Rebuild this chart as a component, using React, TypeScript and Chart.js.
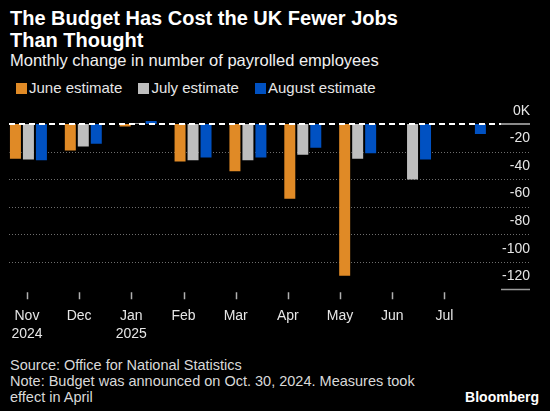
import React, { useEffect, useRef } from "react";
import { Chart, registerables } from "chart.js";

Chart.register(...registerables);

const months = ["Nov", "Dec", "Jan", "Feb", "Mar", "Apr", "May", "Jun", "Jul"];
const years = ["2024", "", "2025", "", "", "", "", "", ""];
const juneEstimate: (number | null)[] = [-26, -20, -2.5, -28, -35, -55, -111, null, null];
const julyEstimate: (number | null)[] = [-26.5, -17, 1, -27, -27, -23, -26, -41, null];
const augustEstimate: (number | null)[] = [-27, -15, 3, -25, -25, -18, -22, -26.5, -8];
const seriesNames = ["June estimate", "July estimate", "August estimate"];
const seriesColors = ["#e08a26", "#bebebe", "#0051c2"];
const yTicks = [0, -20, -40, -60, -80, -100, -120];

const FONT = "'Liberation Sans', Arial, sans-serif";

const gridPlugin = {
  id: "bbgGrid",
  beforeDatasetsDraw(chart: any) {
    const { ctx, chartArea } = chart;
    const y = chart.scales.y;
    ctx.save();
    y.ticks.forEach((t: any) => {
      const py = Math.round(y.getPixelForValue(t.value)) + 0.5;
      if (t.value === 0) return;
      ctx.beginPath();
      if (t.value === y.min) {
        ctx.setLineDash([]);
        ctx.strokeStyle = "#9a9a9a";
        ctx.lineWidth = 1.5;
        ctx.moveTo(chartArea.right + 3, py);
        ctx.lineTo(y.right, py);
      } else {
        ctx.setLineDash([1, 2]);
        ctx.strokeStyle = "#6e6e6e";
        ctx.lineWidth = 1;
        ctx.moveTo(chartArea.left, py);
        ctx.lineTo(y.right, py);
      }
      ctx.stroke();
    });
    ctx.restore();
  },
  afterDatasetsDraw(chart: any) {
    const { ctx, chartArea } = chart;
    const y = chart.scales.y;
    const x2 = chart.scales.x2;
    const py = Math.round(y.getPixelForValue(0));
    ctx.save();
    ctx.beginPath();
    ctx.setLineDash([6, 4]);
    ctx.strokeStyle = "#ffffff";
    ctx.lineWidth = 2;
    ctx.moveTo(chartArea.left, py);
    ctx.lineTo(chartArea.right + 3, py);
    ctx.stroke();
    ctx.beginPath();
    ctx.setLineDash([]);
    ctx.strokeStyle = "#8a8a8a";
    ctx.lineWidth = 2;
    ctx.moveTo(chartArea.right + 3, py);
    ctx.lineTo(y.right, py);
    ctx.stroke();
    // x tick marks
    ctx.beginPath();
    ctx.strokeStyle = "#b0b0b0";
    ctx.lineWidth = 1.5;
    x2.ticks.forEach((t: any) => {
      const px = Math.round(x2.getPixelForValue(t.value)) + 0.5;
      ctx.moveTo(px, chartArea.bottom + 3);
      ctx.lineTo(px, chartArea.bottom + 10);
    });
    ctx.stroke();
    ctx.restore();
  },
};

export default function App() {
  const canvasRef = useRef<HTMLCanvasElement | null>(null);

  useEffect(() => {
    document.body.style.margin = "0";
    document.body.style.background = "#000";
    const canvas = canvasRef.current;
    if (!canvas) return;
    const allSeries = [juneEstimate, julyEstimate, augustEstimate];
    const chart = new Chart(canvas, {
      type: "bar",
      data: {
        datasets: allSeries.map((vals, si) => ({
          label: seriesNames[si],
          data: vals.map((v, i) => ({ x: i, y: v })),
          backgroundColor: seriesColors[si],
          borderColor: "rgba(0,0,0,0.45)",
          borderWidth: 1,
          categoryPercentage: 0.71,
          barPercentage: 1,
          xAxisID: "x",
          yAxisID: "y",
        })) as any,
      },
      options: {
        animation: false,
        responsive: false,
        devicePixelRatio: 1,
        layout: { padding: { left: 9, right: 20, top: 1, bottom: 0 } },
        plugins: {
          legend: { display: false },
          tooltip: { enabled: false },
        },
        scales: {
          x: {
            type: "linear",
            display: false,
            offset: false,
            min: -0.354,
            max: 8.557,
          },
          x2: {
            type: "linear",
            position: "bottom",
            offset: false,
            min: -0.344,
            max: 9.026,
            afterBuildTicks: (scale: any) => {
              scale.ticks = months.map((_, i) => ({ value: i }));
            },
            grid: { display: false, drawTicks: true, tickLength: 7 },
            border: { display: false },
            ticks: {
              autoSkip: false,
              maxRotation: 0,
              padding: 10,
              color: "#e6e6e6",
              font: { family: FONT, size: 14, lineHeight: 1.35 },
              callback: (value: any) => {
                const i = Math.round(Number(value));
                return years[i] ? [months[i], years[i]] : months[i];
              },
            },
          },
          y: {
            type: "linear",
            position: "right",
            min: -120,
            max: 15,
            afterBuildTicks: (scale: any) => {
              scale.ticks = yTicks.map((v) => ({ value: v }));
            },
            grid: { display: false, drawTicks: false },
            border: { display: false },
            ticks: {
              crossAlign: "far",
              padding: 2,
              labelOffset: -13,
              color: "#e6e6e6",
              font: { family: FONT, size: 14 },
              callback: (value: any) => (Number(value) === 0 ? "0K" : String(value)),
            },
          },
        },
      } as any,
      plugins: [gridPlugin],
    });
    return () => chart.destroy();
  }, []);

  return (
    <div
      style={{
        position: "relative",
        width: 550,
        height: 411,
        background: "#000",
        fontFamily: FONT,
        overflow: "hidden",
      }}
    >
      <div
        style={{
          position: "absolute",
          left: 10,
          top: 7,
          color: "#fff",
          fontWeight: "bold",
          fontSize: 20,
          lineHeight: "22px",
        }}
      >
        The Budget Has Cost the UK Fewer Jobs
        <br />
        Than Thought
      </div>
      <div
        style={{
          position: "absolute",
          left: 10,
          top: 50,
          color: "#f0f0f0",
          fontSize: 16.5,
          lineHeight: "20px",
        }}
      >
        Monthly change in number of payrolled employees
      </div>
      <div
        style={{
          position: "absolute",
          left: 16,
          top: 79,
          display: "flex",
          alignItems: "center",
          color: "#e6e6e6",
          fontSize: 15,
          lineHeight: "18px",
        }}
      >
        {seriesNames.map((name, i) => (
          <div key={name} style={{ display: "flex", alignItems: "center", marginRight: 16 }}>
            <span
              style={{
                display: "inline-block",
                width: 11,
                height: 11,
                background: seriesColors[i],
                marginRight: 2,
              }}
            />
            <span>{name}</span>
          </div>
        ))}
      </div>
      <canvas
        ref={canvasRef}
        width={550}
        height={261}
        style={{ position: "absolute", left: 0, top: 93, width: 550, height: 261 }}
      />
      <div
        style={{
          position: "absolute",
          left: 10,
          top: 357,
          color: "#d9d9d9",
          fontSize: 14.5,
          lineHeight: "16px",
        }}
      >
        Source: Office for National Statistics
        <br />
        Note: Budget was announced on Oct. 30, 2024. Measures took
        <br />
        effect in April
      </div>
      <div
        style={{
          position: "absolute",
          right: 11,
          top: 389,
          color: "#fff",
          fontWeight: "bold",
          fontSize: 14,
          lineHeight: "16px",
        }}
      >
        Bloomberg
      </div>
    </div>
  );
}
